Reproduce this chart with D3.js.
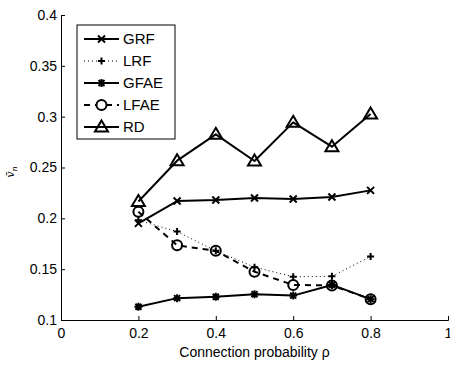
<!DOCTYPE html>
<html>
<head>
<meta charset="utf-8">
<script src="https://cdn.jsdelivr.net/npm/d3@7"></script>
<style>
  body { margin: 0; background: #fff; }
  text { font-family: "Liberation Sans", Arial, sans-serif; fill: #000; }
</style>
</head>
<body>
<div id="chart"></div>
<script>
// connection probability
const probs = [0.2, 0.3, 0.4, 0.5, 0.6, 0.7, 0.8];

const grf  = [0.195, 0.217, 0.218, 0.220, 0.219, 0.221, 0.2275];
const lrf  = [0.198, 0.187, 0.168, 0.152, 0.1425, 0.143, 0.1625];
const gfae = [0.113, 0.1215, 0.1228, 0.1253, 0.124, 0.1345, 0.1205];
const lfae = [0.2065, 0.1735, 0.168, 0.1475, 0.1345, 0.134, 0.1205];
const rd   = [0.2165, 0.2567, 0.2826, 0.2564, 0.2944, 0.2705, 0.3026];

const seriesNames = ["GRF", "LRF", "GFAE", "LFAE", "RD"];
const xTicks = [0, 0.2, 0.4, 0.6, 0.8, 1];
const yTicks = [0.1, 0.15, 0.2, 0.25, 0.3, 0.35, 0.4];

const width = 450, height = 368;
const margin = {top: 15, right: 2, bottom: 48, left: 61};

const svg = d3.select("#chart").append("svg")
    .attr("width", width)
    .attr("height", height);

const x = d3.scaleLinear().domain([0, 1]).range([margin.left, width - margin.right]);
const y = d3.scaleLinear().domain([0.1, 0.4]).range([height - margin.bottom, margin.top]);

// marker shapes, drawn as stroke paths
function markerPath(kind) {
    if (kind == "x") return "M-3.5,-3.5L3.5,3.5M-3.5,3.5L3.5,-3.5";
    if (kind == "+") return "M-3.5,0L3.5,0M0,-3.5L0,3.5";
    if (kind == "*") return "M-4,0L4,0M0,-4L0,4M-3,-3L3,3M-3,3L3,-3";
    if (kind == "o") return d3.arc()({innerRadius: 0, outerRadius: 5, startAngle: 0, endAngle: 2 * Math.PI});
    if (kind == "^") return "M0,-6.5L6.5,4.5L-6.5,4.5Z";
}

const series = [
    {name: "GRF",  values: grf,  marker: "x", dash: null,  lw: 2},
    {name: "LRF",  values: lrf,  marker: "+", dash: "1,3", lw: 1},
    {name: "GFAE", values: gfae, marker: "*", dash: null,  lw: 2},
    {name: "LFAE", values: lfae, marker: "o", dash: "6,5", lw: 2},
    {name: "RD",   values: rd,   marker: "^", dash: null,  lw: 2}
];

// axes (box off, ticks inward)
const xAxis = svg.append("g")
    .attr("transform", "translate(0," + y(0.1) + ")")
    .call(d3.axisBottom(x).tickValues(xTicks).tickSize(-4).tickFormat(d3.format("")));
const yAxis = svg.append("g")
    .attr("transform", "translate(" + x(0) + ",0)")
    .call(d3.axisLeft(y).tickValues(yTicks).tickSize(-4).tickFormat(d3.format("")));

[xAxis, yAxis].forEach(function(a) {
    a.select(".domain").attr("stroke", "#000").attr("stroke-width", 1);
    a.selectAll(".tick line").attr("stroke", "#000");
    a.selectAll(".tick text").style("font-size", "14px").attr("fill", "#000");
});
xAxis.selectAll(".tick text").attr("y", 8).attr("dy", "0.71em");
yAxis.selectAll(".tick text").attr("x", -4);

const line = d3.line()
    .x(function(d, i) { return x(probs[i]); })
    .y(function(d) { return y(d); });

series.forEach(function(s) {
    svg.append("path")
        .attr("d", line(s.values))
        .attr("fill", "none")
        .attr("stroke", "#000")
        .attr("stroke-width", s.lw)
        .attr("stroke-dasharray", s.dash)
        .attr("stroke-linejoin", "round");

    svg.selectAll(".m-" + s.name)
        .data(s.values)
        .enter()
        .append("path")
        .attr("class", "m-" + s.name)
        .attr("d", markerPath(s.marker))
        .attr("transform", function(d, i) { return "translate(" + x(probs[i]) + "," + y(d) + ")"; })
        .attr("fill", "none")
        .attr("stroke", "#000")
        .attr("stroke-width", 2);
});

// legend
const legend = svg.append("g").attr("transform", "translate(77,25)");
legend.append("rect")
    .attr("width", 98).attr("height", 114)
    .attr("fill", "#fff").attr("stroke", "#000").attr("stroke-width", 1);

series.forEach(function(s, i) {
    const ly = 14 + i * 22;
    legend.append("line")
        .attr("x1", 7).attr("x2", 42).attr("y1", ly).attr("y2", ly)
        .attr("stroke", "#000")
        .attr("stroke-width", s.lw)
        .attr("stroke-dasharray", s.dash);
    legend.append("path")
        .attr("d", markerPath(s.marker))
        .attr("transform", "translate(24.5," + ly + ")")
        .attr("fill", s.marker == "o" ? "#fff" : "none")
        .attr("stroke", "#000")
        .attr("stroke-width", 2);
    legend.append("text")
        .attr("x", 46).attr("y", ly)
        .attr("dy", "0.36em")
        .style("font-size", "15px")
        .text(s.name);
});

// axis labels
svg.append("text")
    .attr("x", (x(0) + x(1)) / 2)
    .attr("y", 357)
    .attr("text-anchor", "middle")
    .style("font-size", "14px")
    .text("Connection probability \u03c1");

const yl = svg.append("text")
    .attr("transform", "translate(14,172) rotate(-90)")
    .attr("text-anchor", "middle")
    .style("font-size", "11px")
    .style("font-family", "'DejaVu Serif', serif");
yl.append("tspan").style("font-style", "italic").text("v\u0304");
yl.append("tspan").attr("dy", 3).style("font-size", "8px").style("font-style", "italic").text("n");
</script>
</body>
</html>
